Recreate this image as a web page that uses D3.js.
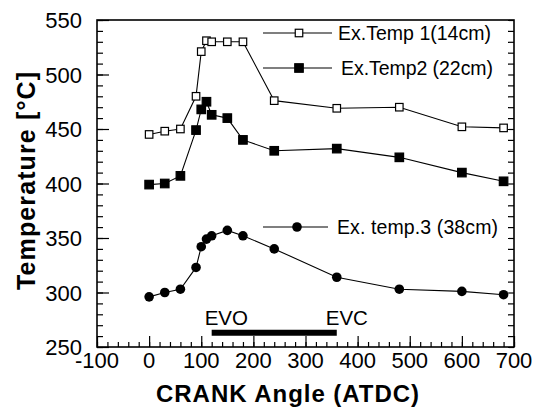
<!DOCTYPE html>
<html>
<head>
<meta charset="utf-8">
<script src="https://cdn.jsdelivr.net/npm/d3@7"></script>
<style>
  body { margin: 0; background: #fff; }
  svg { font-family: "Liberation Sans", Arial, sans-serif; }
</style>
</head>
<body>
<div class="chart"></div>
<script>
var svgWidth = 540;
var svgHeight = 410;

var margin = { top: 20, right: 26, bottom: 63, left: 97 };
var width = svgWidth - margin.left - margin.right;
var height = svgHeight - margin.top - margin.bottom;

// data
var crankAngle = [0, 30, 60, 90, 100, 110, 120, 150, 180, 240, 360, 480, 600, 680];
var temp1 = [445, 448, 450, 480, 521, 531, 530, 530, 530, 476, 469, 470, 452, 451];
var temp2 = [399, 400, 407, 449, 468, 475, 463, 460, 440, 430, 432, 424, 410, 402];
var temp3 = [296, 300, 303, 323, 342, 349, 352, 357, 352, 340, 314, 303, 301, 298];
var seriesNames = ["Ex.Temp 1(14cm)", "Ex.Temp2 (22cm)", "Ex. temp.3  (38cm)"];
var xTicks = [-100, 0, 100, 200, 300, 400, 500, 600, 700];
var yTicks = [250, 300, 350, 400, 450, 500, 550];
var valve = { evo: 120, evc: 360, level: 263 };

var svg = d3.select(".chart")
  .append("svg")
  .attr("width", svgWidth)
  .attr("height", svgHeight);

var chartGroup = svg.append("g")
  .attr("transform", `translate(${margin.left}, ${margin.top})`);

var x = d3.scaleLinear().domain([-100, 700]).range([0, width]);
var y = d3.scaleLinear().domain([250, 550]).range([height, 0]);

// minor + major ticks, pointing inward
var bottomMinor = d3.axisTop(x).tickValues(d3.range(-100, 701, 20)).tickSize(5).tickFormat("");
var bottomMajor = d3.axisTop(x).tickValues(xTicks).tickSize(11).tickFormat("");
var leftMinor = d3.axisRight(y).tickValues(d3.range(250, 551, 10)).tickSize(6).tickFormat("");
var leftMajor = d3.axisRight(y).tickValues(yTicks).tickSize(12).tickFormat("");
var rightMinor = d3.axisLeft(y).tickValues(d3.range(250, 551, 10)).tickSize(6).tickFormat("");

chartGroup.append("g").attr("transform", `translate(0, ${height})`).call(bottomMinor);
chartGroup.append("g").attr("transform", `translate(0, ${height})`).call(bottomMajor);
chartGroup.append("g").call(leftMinor);
chartGroup.append("g").call(leftMajor);
chartGroup.append("g").attr("transform", `translate(${width}, 0)`).call(rightMinor);

chartGroup.selectAll(".domain").remove();
chartGroup.selectAll(".tick line").attr("stroke", "#000").attr("stroke-width", 1.2);

// frame
chartGroup.append("rect")
  .attr("width", width)
  .attr("height", height)
  .attr("fill", "none")
  .attr("stroke", "#000")
  .attr("stroke-width", 1.6);

// tick labels
chartGroup.selectAll(".xlab")
  .data(xTicks)
  .enter()
  .append("text")
  .attr("x", d => x(d))
  .attr("y", height + 21)
  .attr("text-anchor", "middle")
  .attr("font-size", 22)
  .text(d => d);

chartGroup.selectAll(".ylab")
  .data(yTicks)
  .enter()
  .append("text")
  .attr("x", -15)
  .attr("y", d => y(d) + 8)
  .attr("text-anchor", "end")
  .attr("font-size", 22)
  .text(d => d);

// axis titles
chartGroup.append("text")
  .attr("x", width / 2 - 18)
  .attr("y", height + 55)
  .attr("text-anchor", "middle")
  .attr("font-size", 24)
  .attr("font-weight", "bold")
  .attr("textLength", 263)
  .text("CRANK Angle (ATDC)");

chartGroup.append("text")
  .attr("transform", "rotate(-90)")
  .attr("x", -(181 - margin.top))
  .attr("y", 35 - margin.left)
  .attr("text-anchor", "middle")
  .attr("font-size", 25)
  .attr("font-weight", "bold")
  .attr("textLength", 218)
  .text("Temperature [°C]");

// exhaust valve open bar
chartGroup.append("line")
  .attr("x1", x(valve.evo))
  .attr("x2", x(valve.evc))
  .attr("y1", y(valve.level))
  .attr("y2", y(valve.level))
  .attr("stroke", "#000")
  .attr("stroke-width", 6);

chartGroup.append("text")
  .attr("x", x(valve.evo) - 7)
  .attr("y", y(valve.level) - 8)
  .attr("font-size", 20.5)
  .text("EVO");

chartGroup.append("text")
  .attr("x", x(valve.evc) - 11)
  .attr("y", y(valve.level) - 8)
  .attr("font-size", 20.5)
  .text("EVC");

// series
var line = d3.line().x(d => x(d[0])).y(d => y(d[1]));
var series = [temp1, temp2, temp3].map(vals => crankAngle.map((c, i) => [c, vals[i]]));

function drawMarker(g, kind, cx, cy) {
  if (kind === "circle") {
    g.append("circle").attr("cx", cx).attr("cy", cy).attr("r", 4.8).attr("fill", "#000");
  } else {
    var s = kind === "open" ? 7.5 : 8.5;
    g.append("rect")
      .attr("x", cx - s / 2).attr("y", cy - s / 2)
      .attr("width", s).attr("height", s)
      .attr("fill", kind === "open" ? "#fff" : "#000")
      .attr("stroke", "#000")
      .attr("stroke-width", 1.2);
  }
}

var kinds = ["open", "filled", "circle"];
series.forEach(function(data, i) {
  chartGroup.append("path")
    .datum(data)
    .attr("d", line)
    .attr("fill", "none")
    .attr("stroke", "#000")
    .attr("stroke-width", 1.1);
  var g = chartGroup.append("g");
  data.forEach(d => drawMarker(g, kinds[i], x(d[0]), y(d[1])));
});

// legends
var legendPos = [
  { x1: 263, x2: 332, mx: 299, y: 33, tx: 338, w: 153 },
  { x1: 263, x2: 332, mx: 299, y: 68, tx: 341, w: 152 },
  { x1: 263, x2: 328, mx: 297, y: 227, tx: 337, w: 161 }
];
legendPos.forEach(function(p, i) {
  var g = svg.append("g");
  g.append("line")
    .attr("x1", p.x1).attr("x2", p.x2)
    .attr("y1", p.y).attr("y2", p.y)
    .attr("stroke", "#000").attr("stroke-width", 1.1);
  drawMarker(g, kinds[i], p.mx, p.y);
  g.append("text")
    .attr("x", p.tx)
    .attr("y", p.y + 7)
    .attr("font-size", 19.5)
    .attr("textLength", p.w)
    .text(seriesNames[i]);
});
</script>
</body>
</html>
